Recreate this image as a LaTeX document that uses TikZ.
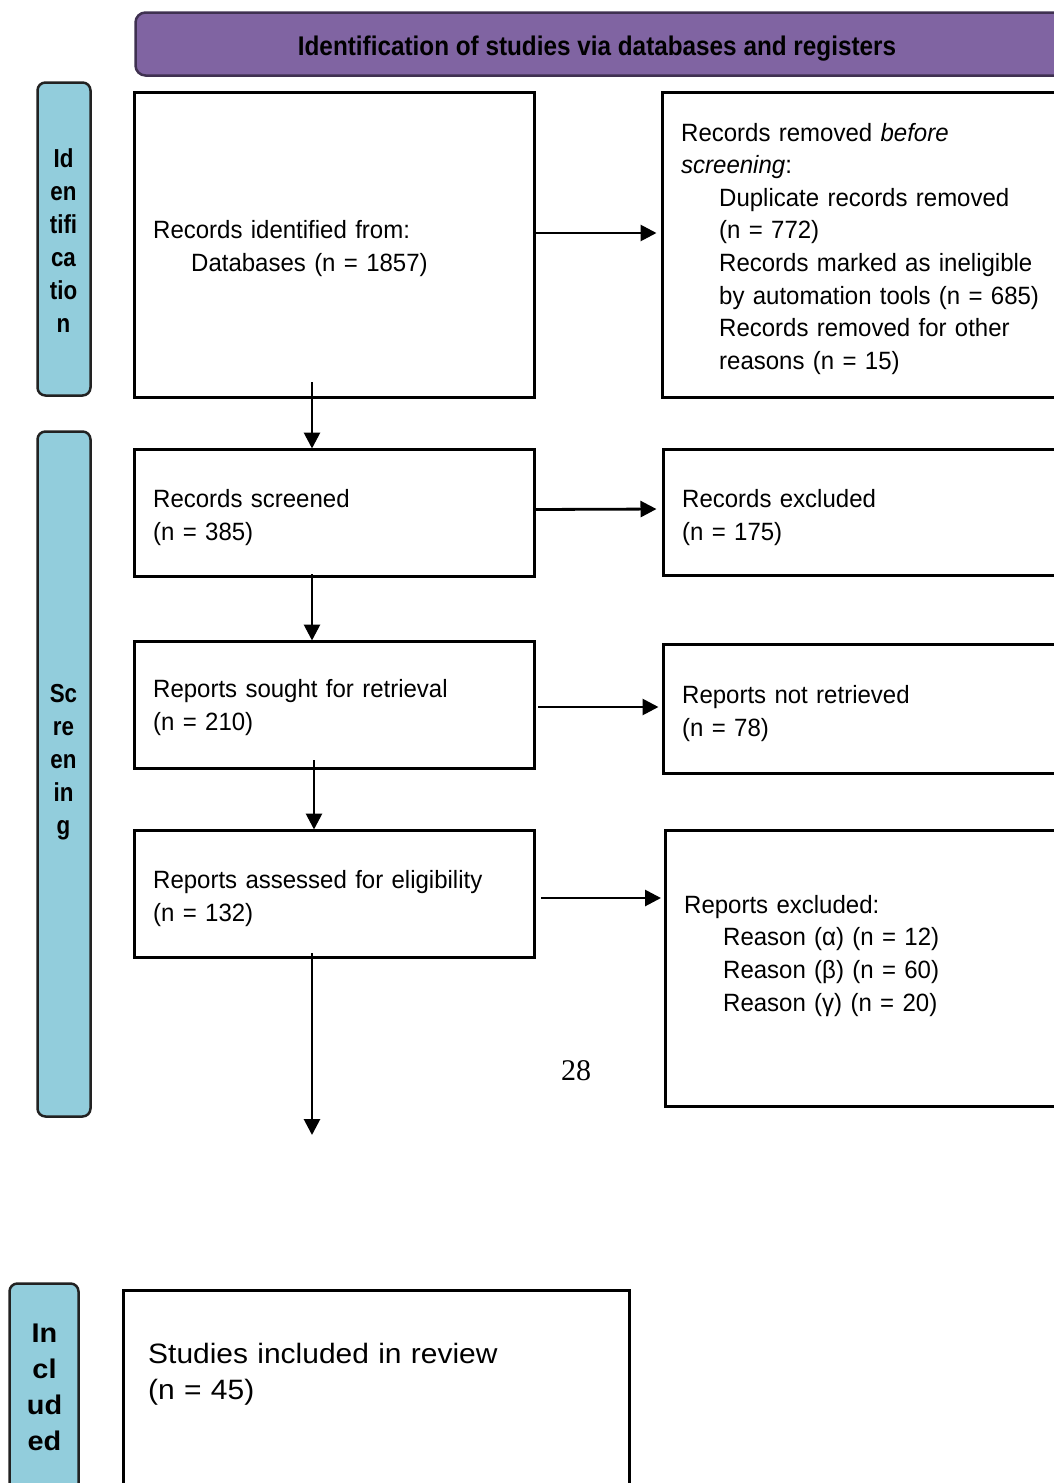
\documentclass[tikz,border=0pt]{standalone}
\usepackage{fontspec}
\setmainfont{Liberation Sans}
\newfontfamily\mainf[FakeStretch=0.96]{Liberation Sans}
\newfontfamily\headf[FakeStretch=0.9]{Liberation Sans}
\newfontfamily\sidef[FakeStretch=0.86]{Liberation Sans}
\newfontfamily\incf[FakeStretch=1.07]{Liberation Sans}
\newfontfamily\serf{Liberation Serif}
\usetikzlibrary{arrows.meta}
\definecolor{hdrfill}{HTML}{8064A2}
\definecolor{hdrline}{HTML}{3F3151}
\definecolor{sidefill}{HTML}{92CDDC}
\definecolor{sideline}{HTML}{222222}
\begin{document}
\begin{tikzpicture}[x=1pt,y=-1pt,
  box/.style={draw=black, line width=2.8pt, rectangle, anchor=north west, inner sep=0pt, outer sep=0pt},
  hdr/.style={draw=hdrline, fill=hdrfill, line width=2.5pt, rounded corners=10pt, rectangle, anchor=north west, inner sep=0pt, outer sep=0pt},
  side/.style={draw=sideline, fill=sidefill, line width=2.5pt, rounded corners=8pt, rectangle, anchor=north west, inner sep=0pt, outer sep=0pt},
  txt/.style={anchor=base west, text width=380pt, align=left, inner sep=0pt, font=\mainf\fontsize{25}{33}\selectfont},
  sidetxt/.style={anchor=base, text width=60pt, align=center, inner sep=0pt, font=\sidef\bfseries\fontsize{26}{33}\selectfont},
  arr/.style={draw=black, line width=2.8pt, -{Triangle[length=16pt,width=16pt]}}
]
\useasboundingbox (0,0) rectangle (1054,1483);
\clip (0,0) rectangle (1054,1483);

% header
\node[hdr, minimum width=1000pt, minimum height=63pt] (hd) at (135.5,12.5) {};
\node[anchor=base, inner sep=0pt, font=\headf\bfseries\fontsize{27}{33}\selectfont] (hdt) at (597,55.5) {Identification of studies via databases and registers};

% side labels
\node[side, minimum width=53pt, minimum height=313pt] (s1) at (37.5,82.5) {};
\node[side, minimum width=53pt, minimum height=685pt] (s2) at (37.5,431.5) {};
\node[side, minimum width=69pt, minimum height=250pt] (s3) at (9.5,1283.5) {};
\node[sidetxt] (sl1) at (63.5,167.5) {Id\\en\\tifi\\ca\\tio\\n};
\node[sidetxt] (sl2) at (63.5,702.5) {Sc\\re\\en\\in\\g};
\node[sidetxt, font=\incf\bfseries\fontsize{27}{36}\selectfont] (sl3) at (44.5,1342) {In\\cl\\ud\\ed};

% boxes
\node[box, minimum width=400pt, minimum height=305pt] (b1) at (134.5,92.5) {};
\node[box, minimum width=420pt, minimum height=305pt] (b2) at (662.5,92.5) {};
\node[box, minimum width=400pt, minimum height=127pt] (b3) at (134.5,449.5) {};
\node[box, minimum width=420pt, minimum height=126pt] (b4) at (663.5,449.5) {};
\node[box, minimum width=400pt, minimum height=127pt] (b5) at (134.5,641.5) {};
\node[box, minimum width=420pt, minimum height=129pt] (b6) at (663.5,644.5) {};
\node[box, minimum width=400pt, minimum height=127pt] (b7) at (134.5,830.5) {};
\node[box, minimum width=420pt, minimum height=276pt] (b8) at (665.5,830.5) {};
\node[box, minimum width=506pt, minimum height=250pt] (b9) at (123.5,1290.5) {};

% texts
\node[txt] (t1) at (153,238) {Records identified from:\\\hspace*{38pt}Databases (n = 1857)};
\node[txt, font=\mainf\fontsize{25}{32.6}\selectfont] (t2) at (681,141) {Records removed \textit{before}\\\textit{screening}:\\\hspace*{38pt}Duplicate records removed\\\hspace*{38pt}(n = 772)\\\hspace*{38pt}Records marked as ineligible\\\hspace*{38pt}by automation tools (n = 685)\\\hspace*{38pt}Records removed for other\\\hspace*{38pt}reasons (n = 15)};
\node[txt] (t3) at (153,507) {Records screened\\(n = 385)};
\node[txt] (t4) at (682,507) {Records excluded\\(n = 175)};
\node[txt] (t5) at (153,697) {Reports sought for retrieval\\(n = 210)};
\node[txt] (t6) at (682,703) {Reports not retrieved\\(n = 78)};
\node[txt] (t7) at (153,888) {Reports assessed for eligibility\\(n = 132)};
\node[txt, font=\mainf\fontsize{25}{32.7}\selectfont] (t8) at (684,913) {Reports excluded:\\\hspace*{39pt}Reason (α) (n = 12)\\\hspace*{39pt}Reason (β) (n = 60)\\\hspace*{39pt}Reason (γ) (n = 20)};
\node[txt, font=\incf\fontsize{28}{36}\selectfont] (t9) at (148,1363) {Studies included in review\\(n = 45)};
\node[inner sep=0pt, font=\serf\fontsize{30}{36}\selectfont] (pg) at (576,1071) {28};

% arrows
\draw[arr, shorten >=6pt] ([yshift=12pt]b1.east) -- ([yshift=12pt]b2.west);
\draw[arr, shorten >=7pt] ([yshift=3.5pt]b3.east) -- ([yshift=3.5pt]b4.west);
\draw[arr, shorten <=3.5pt, shorten >=5pt] ([yshift=-2pt]b5.east) -- ([yshift=2pt]b6.west);
\draw[arr, shorten <=6.5pt, shorten >=4.5pt] ([yshift=-4pt]b7.east) -- ([yshift=70.5pt]b8.west);
\draw[arr, shorten >=1pt] ([xshift=-22.5pt,yshift=15.5pt]b1.south) -- ([xshift=-22.5pt]b3.north);
\draw[arr, shorten >=1pt] ([xshift=-22.5pt,yshift=2.5pt]b3.south) -- ([xshift=-22.5pt]b5.north);
\draw[arr, shorten >=1pt] ([xshift=-20.5pt,yshift=8.5pt]b5.south) -- ([xshift=-20.5pt]b7.north);
\coordinate (e4) at (312,1135);
\draw[arr] ([xshift=-22.5pt,yshift=4.5pt]b7.south) -- (e4);
\end{tikzpicture}
\end{document}
